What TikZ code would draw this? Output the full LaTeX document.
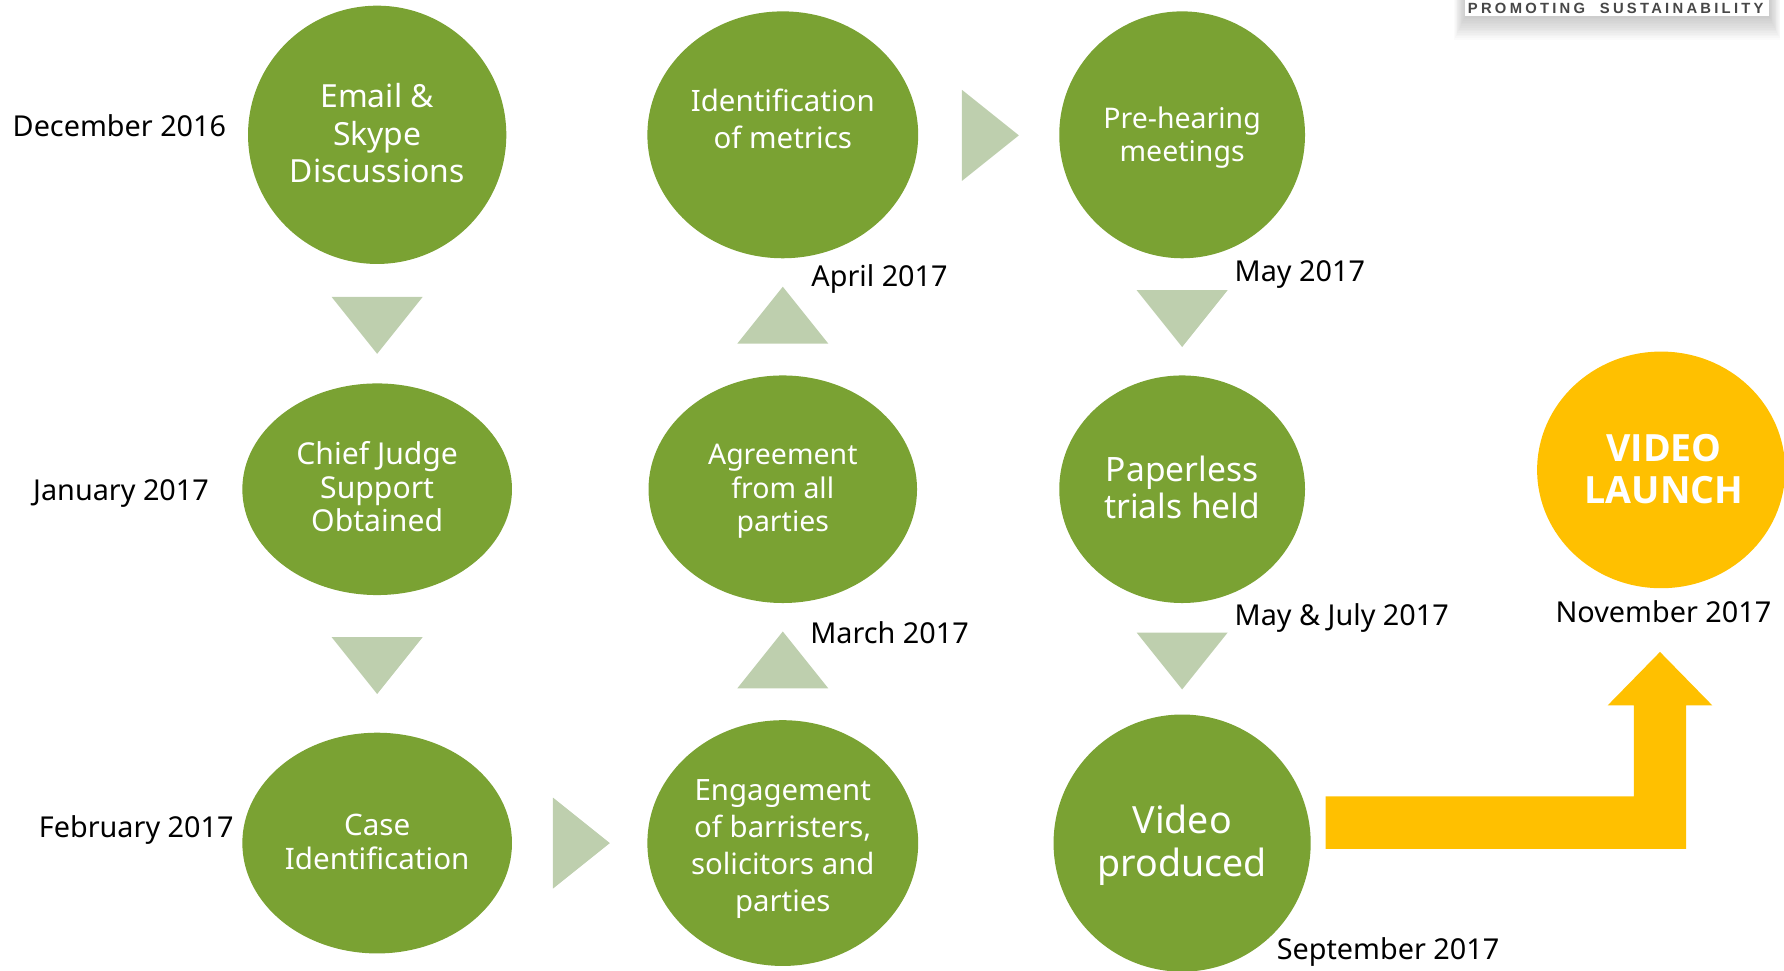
\documentclass[tikz,border=0pt]{standalone}
\usepackage{fontspec}
\setmainfont{Noto Sans}
\newfontfamily\logofont[LetterSpace=22,WordSpace=2]{Liberation Sans}
\newfontfamily\launchfont{Open Sans}
\usetikzlibrary{shapes.geometric}
\definecolor{stepgreen}{HTML}{7AA233}
\definecolor{launchgold}{HTML}{FFC000}
\definecolor{trisage}{HTML}{BECFAE}
\tikzset{
	stepnode/.style 2 args={ellipse, fill=stepgreen, inner sep=0pt, minimum width=#1, minimum height=#2},
	steptext/.style={text=white, inner sep=0pt, align=center},
	datenode/.style={anchor=base west, inner sep=0pt, font=\fontsize{25.3}{30}\selectfont},
}
\newcommand{\fs}[2]{\fontsize{#1}{#2}\selectfont}
\begin{document}
\begin{tikzpicture}[x=1pt, y=-1pt, line join=miter]
			
			\useasboundingbox (0,0) rectangle (1568,852.6);
			
			% logo strip
			\foreach \i in {0,...,14}{
				\fill[black, opacity=0.014] (1288-0.7*\i,-5) rectangle (1555+0.7*\i,14+1.5*\i);
			}
			\fill[white] (1288,-5) rectangle (1555,14);
			\node[anchor=base west, inner sep=0pt, text=black!72, font={\fs{13}{13}\logofont\bfseries}] (logo) at (1290,12) {PROMOTING SUSTAINABILITY};
			
			% steps
			\node[stepnode={227pt}{227pt}] (email) at (331.5,118.5) {};
			\node[stepnode={237pt}{186pt}] (judge) at (331.5,430) {};
			\node[stepnode={237pt}{194pt}] (case) at (331.5,741) {};
			\node[stepnode={238pt}{217pt}] (metrics) at (688,118.5) {};
			\node[stepnode={236pt}{200pt}] (agree) at (688,430) {};
			\node[stepnode={238pt}{216pt}] (barristers) at (688,741) {};
			\node[stepnode={216pt}{217pt}] (prehear) at (1039,118.5) {};
			\node[stepnode={216pt}{200pt}] (paperless) at (1039,430) {};
			\node[stepnode={226pt}{226pt}] (video) at (1039,741) {};
			\node[stepnode={218pt}{208pt}, fill=launchgold] (launch) at (1460,413) {};
			
			% step texts
			\node[steptext, font=\fs{28}{33}] (emailtext) at (331.5,117) {Email \&\\Skype\\Discussions};
			\node[steptext, font=\fs{26.5}{29.5}] (judgetext) at (331.5,428) {Chief Judge\\Support\\Obtained};
			\node[steptext, font=\fs{26}{29.5}] (casetext) at (331.5,740) {Case\\Identification};
			\node[steptext, font=\fs{25.9}{32.5}] (metricstext) at (688,104.5) {Identification\\of metrics};
			\node[steptext, font=\fs{25}{29.5}] (agreetext) at (688,432) {Agreement\\from all\\parties};
			\node[steptext, font=\fs{25.8}{32.5}] (barristerstext) at (688,746) {Engagement\\of barristers,\\solicitors and\\parties};
			\node[steptext, font=\fs{25}{29.5}] (prehearingtext) at (1039,121) {Pre-hearing\\meetings};
			\node[steptext, font=\fs{29.5}{33}] (paperlesstext) at (1039,428.5) {Paperless\\trials held};
			\node[steptext, font=\fs{33}{37.5}] (videotext) at (1039,743) {Video\\produced};
			\node[steptext, font={\fs{33}{37}\launchfont\bfseries}] (launchtext) at (1462.5,412) {VIDEO\\LAUNCH};
			
			% triangles
			\foreach \x/\y/\r in {331.5/286/-90, 331.5/585/-90, 511/741/0, 688/277/90, 688/580/90, 870.5/119/0, 1039/280/-90, 1039/581/-90}{
				\fill[trisage, shift={(\x,\y)}, rotate=\r] (-25,-40) -- (-25,40) -- (25,0) -- cycle;
			}
			
			% bent arrow
			\fill[launchgold] (1165,700) -- (1436,700) -- (1436,620) -- (1413,620) -- (1459,573) -- (1505,620) -- (1482,620) -- (1482,746) -- (1165,746) -- cycle;
			
			% dates
			\foreach \n/\x/\y/\t in {
				dec/11/120/December 2016, jan/29/440/January 2017, feb/34/736/February 2017,
				apr/713/252/April 2017, mar/712/566/March 2017, may/1085/247/May 2017,
				jul/1085/550/May \& July 2017, nov/1367/547/November 2017, sep/1122/843/September 2017}{
				\node[datenode] (\n) at (\x,\y) {\t};
			}
		\end{tikzpicture}
\end{document}
